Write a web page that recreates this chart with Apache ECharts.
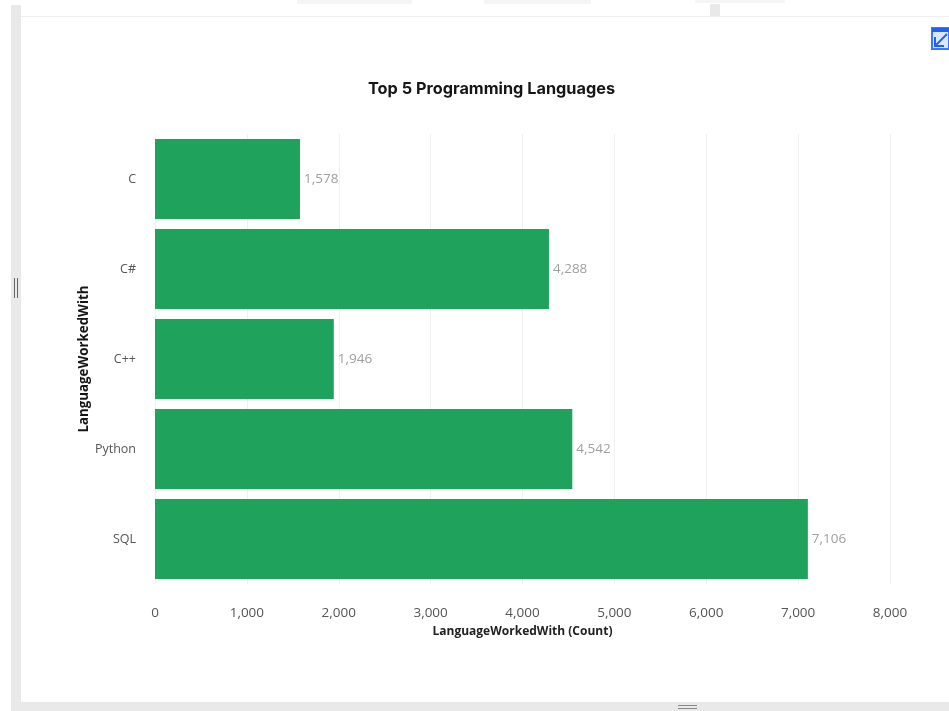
<!DOCTYPE html>
<html><head><meta charset="utf-8">
<style>html,body{margin:0;padding:0;background:#fff}#c{width:949px;height:711px}</style>
<script src="https://cdn.jsdelivr.net/npm/echarts@6/dist/echarts.min.js"></script>
</head><body><div id="c"></div>
<script>
const categories = ['C', 'C#', 'C++', 'Python', 'SQL'];
const counts = [1578, 4288, 1946, 4542, 7106];
const xTicks = [0, 1000, 2000, 3000, 4000, 5000, 6000, 7000, 8000];
const titleText = 'Top 5 Programming Languages';
const xName = 'LanguageWorkedWith (Count)';
const yName = 'LanguageWorkedWith';
const font = '"Open Sans", sans-serif';
const fmt = v => v.toLocaleString('en-US');
const chart = echarts.init(document.getElementById('c'), null, {renderer:'canvas'});
chart.setOption({
  animation:false,
  backgroundColor:'#fff',
  title:{text:titleText,left:486.5,top:76,textAlign:'center',
    textStyle:{fontFamily:'Inter, sans-serif',fontSize:16.3,fontWeight:700,color:'#161616'}},
  grid:{left:155,top:134,width:735,height:450,containLabel:false},
  xAxis:{type:'value',min:xTicks[0],max:xTicks[xTicks.length-1],interval:1000,
    axisLine:{show:false},axisTick:{show:false},
    splitLine:{show:true,lineStyle:{color:'#f0f0f0',width:1}},
    axisLabel:{margin:22,color:'#555',fontFamily:font,fontSize:13.5,formatter:v=>fmt(v)},
    name:xName,nameLocation:'middle',nameGap:42,nameMoveOverlap:false,
    nameTextStyle:{fontFamily:font,fontSize:12,fontWeight:700,color:'#222'}},
  yAxis:{type:'category',data:categories,inverse:true,
    axisLine:{show:false},axisTick:{show:false},splitLine:{show:false},
    axisLabel:{margin:19,color:'#555',fontFamily:font,fontSize:12.5},
    name:yName,nameLocation:'middle',nameGap:64,nameMoveOverlap:false,
    nameTextStyle:{fontFamily:font,fontSize:13.3,fontWeight:700,color:'#161616'}},
  series:[{type:'bar',data:counts,barWidth:80,
    itemStyle:{color:'#1fa35c'},
    label:{show:true,position:'right',distance:4,color:'#a0a0a0',fontFamily:font,fontSize:13.5,
      formatter:p=>fmt(p.value)}}],
  graphic:[
    {type:'rect',shape:{x:11,y:5,width:10,height:706},style:{fill:'#e9e9e9'},silent:true},
    {type:'rect',shape:{x:11,y:702,width:938,height:9},style:{fill:'#e9e9e9'},silent:true},
    {type:'rect',shape:{x:21,y:16,width:928,height:1},style:{fill:'#eeeeee'},silent:true},
    {type:'rect',shape:{x:710,y:4,width:10,height:12},style:{fill:'#e9e9e9'},silent:true},
    {type:'rect',shape:{x:297,y:0,width:115,height:4},style:{fill:'#f5f5f5'},silent:true},
    {type:'rect',shape:{x:484,y:0,width:107,height:4},style:{fill:'#f5f5f5'},silent:true},
    {type:'rect',shape:{x:695,y:0,width:90,height:3},style:{fill:'#f5f5f5'},silent:true},
    {type:'rect',shape:{x:14,y:278,width:1,height:20},style:{fill:'#666'},silent:true},
    {type:'rect',shape:{x:17,y:278,width:1,height:20},style:{fill:'#666'},silent:true},
    {type:'rect',shape:{x:678,y:705,width:19,height:1},style:{fill:'#888'},silent:true},
    {type:'rect',shape:{x:678,y:708,width:19,height:1},style:{fill:'#888'},silent:true},
    {type:'rect',shape:{x:932,y:28,width:17,height:21},style:{fill:'#dbe6ff',stroke:'#3d78f5',lineWidth:2},silent:true},
    {type:'rect',shape:{x:932,y:28,width:17,height:4},style:{fill:'#1f62f0'},silent:true},
    {type:'polyline',shape:{points:[[947,34],[936,45]]},style:{stroke:'#1f62f0',lineWidth:2,fill:'none'},silent:true},
    {type:'polyline',shape:{points:[[935,37],[935,46],[944,46]]},style:{stroke:'#1f62f0',lineWidth:2,fill:'none'},silent:true}
  ]
});
</script></body></html>
